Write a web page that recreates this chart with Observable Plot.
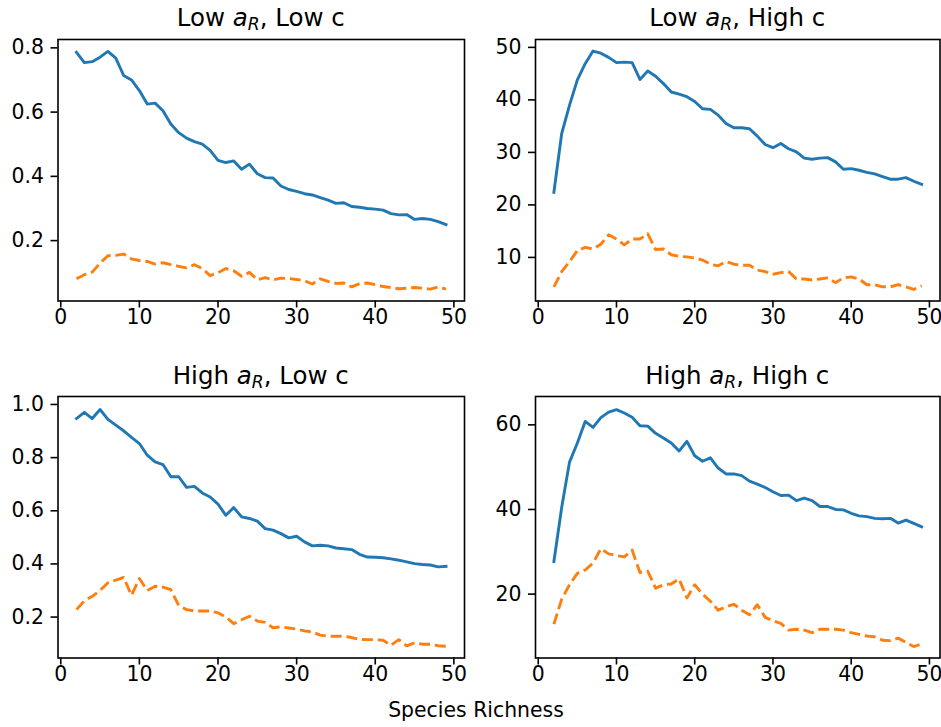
<!DOCTYPE html>
<html>
<head>
<meta charset="utf-8">
<script src="https://cdn.jsdelivr.net/npm/d3@7"></script>
<script src="https://cdn.jsdelivr.net/npm/@observablehq/plot@0.6"></script>
<style>
  html, body { margin: 0; padding: 0; background: #fff; }
  #chart { position: relative; width: 941px; height: 727px; overflow: hidden; font-family: "DejaVu Sans", sans-serif; }
  .panel { position: absolute; }
  .title { position: absolute; font-size: 24.5px; color: #000; white-space: nowrap; transform: translateX(-50%); line-height: 1; }
  .title sub { font-size: 70%; vertical-align: -0.25em; line-height: 0; }
  .xlabel { position: absolute; font-size: 20.4px; color: #000; white-space: nowrap; transform: translateX(-50%); line-height: 1; }
</style>
</head>
<body>
<div id="chart"></div>
<script>
const richness = [2,3,4,5,6,7,8,9,10,11,12,13,14,15,16,17,18,19,20,21,22,23,24,25,26,27,28,29,30,31,32,33,34,35,36,37,38,39,40,41,42,43,44,45,46,47,48,49];

// Low aR, Low c
const lowLowSolid = [0.786,0.754,0.757,0.771,0.789,0.768,0.714,0.700,0.667,0.625,0.628,0.604,0.563,0.536,0.519,0.508,0.500,0.481,0.450,0.443,0.448,0.422,0.438,0.408,0.396,0.395,0.370,0.359,0.353,0.346,0.342,0.334,0.326,0.316,0.318,0.306,0.304,0.300,0.298,0.295,0.284,0.280,0.281,0.266,0.269,0.266,0.259,0.250];
const lowLowDashed = [0.081,0.094,0.102,0.130,0.153,0.154,0.158,0.143,0.138,0.135,0.127,0.131,0.125,0.120,0.115,0.125,0.113,0.091,0.100,0.113,0.106,0.089,0.101,0.078,0.085,0.078,0.083,0.082,0.079,0.075,0.065,0.081,0.073,0.067,0.068,0.056,0.066,0.068,0.063,0.057,0.054,0.050,0.052,0.054,0.052,0.049,0.056,0.049];

// Low aR, High c
const lowHighSolid = [22.4,33.6,39.0,43.8,46.9,49.3,48.9,48.1,47.1,47.2,47.1,43.9,45.5,44.5,43.1,41.5,41.1,40.6,39.7,38.3,38.2,37.1,35.5,34.7,34.7,34.5,33.1,31.5,30.9,31.7,30.7,30.1,28.9,28.7,28.9,29.0,28.2,26.8,26.9,26.6,26.2,25.9,25.4,24.9,24.9,25.2,24.5,23.9];
const lowHighDashed = [4.4,7.3,9.2,11.3,11.9,11.6,12.5,14.3,13.5,12.4,13.5,13.5,14.5,11.5,11.6,10.5,10.2,10.1,9.9,9.5,8.7,8.4,9.2,8.7,8.5,8.5,7.6,7.3,6.8,7.1,7.3,5.9,5.9,5.7,5.9,6.1,5.2,6.1,6.3,5.9,4.8,4.8,4.4,4.4,4.8,4.4,3.9,4.6];

// High aR, Low c
const highLowSolid = [0.947,0.970,0.947,0.981,0.944,0.922,0.901,0.876,0.853,0.809,0.784,0.774,0.728,0.728,0.688,0.692,0.667,0.652,0.625,0.583,0.612,0.577,0.571,0.561,0.533,0.527,0.514,0.498,0.504,0.483,0.468,0.470,0.468,0.460,0.457,0.454,0.436,0.426,0.425,0.423,0.419,0.414,0.408,0.401,0.398,0.396,0.389,0.391];
const highLowDashed = [0.228,0.261,0.278,0.300,0.329,0.339,0.349,0.282,0.345,0.300,0.316,0.313,0.303,0.244,0.228,0.223,0.223,0.223,0.216,0.200,0.175,0.190,0.203,0.185,0.180,0.160,0.163,0.159,0.155,0.148,0.144,0.132,0.128,0.128,0.128,0.123,0.116,0.115,0.115,0.113,0.094,0.115,0.092,0.103,0.098,0.098,0.092,0.090];

// High aR, High c
const highHighSolid = [27.7,40.5,51.2,55.7,60.8,59.4,61.7,63.0,63.6,62.8,61.8,59.8,59.7,58.0,56.9,55.7,53.8,56.1,52.7,51.4,52.2,49.8,48.4,48.4,48.0,46.7,46.0,45.2,44.2,43.3,43.4,42.1,42.7,42.1,40.7,40.7,40.0,39.9,39.1,38.5,38.3,37.9,37.8,37.9,36.8,37.5,36.7,35.9];
const highHighDashed = [12.9,18.8,22.2,24.9,25.7,27.3,30.7,29.5,29.1,28.8,30.4,25.1,25.4,21.4,22.2,22.4,23.6,19.1,22.2,20.0,18.3,16.2,17.0,17.6,16.2,15.1,17.5,14.5,13.7,13.1,11.5,11.7,11.5,10.9,11.7,11.7,11.7,11.5,10.9,10.5,10.1,9.9,9.1,9.0,9.6,8.6,7.6,8.2];

const xTicks = [0,10,20,30,40,50];
const panelTitles = [
  ["Low ", ", Low c"],
  ["Low ", ", High c"],
  ["High ", ", Low c"],
  ["High ", ", High c"]
];
const xLabel = "Species Richness";

const panels = [
  {solid: lowLowSolid, dashed: lowLowDashed, yDomain: [0.012, 0.826], yTicks: [0.2,0.4,0.6,0.8], fmt: d3.format(".1f"), left: 0, top: 30, width: 470, ml: 57.5, mr: 6, titleBase: 27},
  {solid: lowHighSolid, dashed: lowHighDashed, yDomain: [1.7, 51.5], yTicks: [10,20,30,40,50], fmt: d3.format("d"), left: 480, top: 30, width: 461, ml: 55, mr: 1.5, titleBase: 27},
  {solid: highLowSolid, dashed: highLowDashed, yDomain: [0.046, 1.03], yTicks: [0.2,0.4,0.6,0.8,1.0], fmt: d3.format(".1f"), left: 0, top: 387, width: 470, ml: 57.5, mr: 6, titleBase: 385},
  {solid: highHighSolid, dashed: highHighDashed, yDomain: [4.9, 66.7], yTicks: [20,40,60], fmt: d3.format("d"), left: 480, top: 387, width: 461, ml: 55, mr: 1.5, titleBase: 385}
];

const chart = document.getElementById("chart");

panels.forEach((p, i) => {
  const solidData = richness.map((x, k) => ({x, y: p.solid[k]}));
  const dashedData = richness.map((x, k) => ({x, y: p.dashed[k]}));
  const svg = Plot.plot({
    width: p.width,
    height: 300,
    marginLeft: p.ml,
    marginRight: p.mr,
    marginTop: 9,
    marginBottom: 29.5,
    style: {fontFamily: "DejaVu Sans, sans-serif", fontSize: "20.4px", color: "#000", background: "transparent", overflow: "visible"},
    x: {domain: [-0.35, 51.35]},
    y: {domain: p.yDomain},
    marks: [
      Plot.line(solidData, {x: "x", y: "y", stroke: "#1f77b4", strokeWidth: 2.9, strokeLinejoin: "round", strokeLinecap: "square"}),
      Plot.line(dashedData, {x: "x", y: "y", stroke: "#ff7f0e", strokeWidth: 2.9, strokeDasharray: "11,4.8", strokeLinecap: "butt", strokeLinejoin: "round"}),
      Plot.frame({stroke: "#000", strokeWidth: 1.6}),
      Plot.axisX({ticks: xTicks, tickSize: 7, tickPadding: 2, tickFormat: d3.format("d"), label: null, strokeWidth: 1.6, stroke: "#000", fontSize: 20.4}),
      Plot.axisY({ticks: p.yTicks, tickSize: 7, tickPadding: 7, tickFormat: p.fmt, label: null, strokeWidth: 1.6, stroke: "#000", fontSize: 20.4})
    ]
  });
  svg.classList.add("panel");
  svg.style.left = p.left + "px";
  svg.style.top = p.top + "px";
  chart.appendChild(svg);

  const frameLeft = p.left + p.ml;
  const frameRight = p.left + p.width - p.mr;
  const t = document.createElement("div");
  t.className = "title";
  t.innerHTML = panelTitles[i][0] + '<span style="font-style:italic">a<sub>R</sub></span>' + panelTitles[i][1];
  t.style.left = ((frameLeft + frameRight) / 2) + "px";
  t.style.top = (p.titleBase - 0.846 * 24.5) + "px";
  chart.appendChild(t);
});

const xl = document.createElement("div");
xl.className = "xlabel";
xl.textContent = xLabel;
xl.style.left = "476px";
xl.style.top = (717 - 0.846 * 20.4) + "px";
chart.appendChild(xl);
</script>
</body>
</html>
